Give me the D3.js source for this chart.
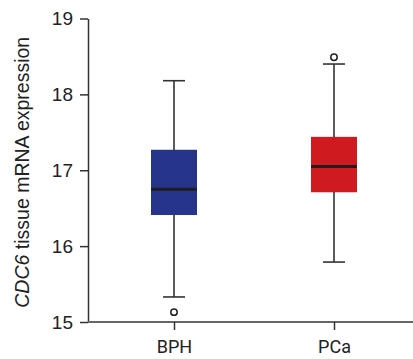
<!DOCTYPE html>
<html>
<head>
<meta charset="utf-8">
<script src="https://cdn.jsdelivr.net/npm/d3@7"></script>
<style>
  body { margin: 0; background: #fff; }
  svg { display: block; }
</style>
</head>
<body>
<svg id="chart"></svg>
<script>
const groups = ['BPH', 'PCa']
const colors = ['#27348b', '#cf1a1f']
const whiskerLow = [15.33, 15.79]
const q1 = [16.41, 16.71]
const median = [16.75, 17.05]
const q3 = [17.27, 17.44]
const whiskerHigh = [18.18, 18.40]
const outliers = [[15.13], [18.49]]
const yTicks = [15, 16, 17, 18, 19]

const W = 413
const H = 359

const svg = d3.select('#chart')
    .attr('width', W)
    .attr('height', H)

const y = d3.scaleLinear()
    .domain([15, 19])
    .range([322, 18.5])

const x = d3.scalePoint()
    .domain(groups)
    .range([174, 334])

const boxW = 46
const capW = 22

const data = groups.map((g, i) => ({
    g: g,
    color: colors[i],
    lo: whiskerLow[i],
    q1: q1[i],
    med: median[i],
    q3: q3[i],
    hi: whiskerHigh[i],
    out: outliers[i]
}))

// y axis
const yAxis = svg.append('g')
    .attr('transform', 'translate(88,0)')
    .call(d3.axisLeft(y).tickValues(yTicks).tickFormat(d3.format('d'))
        .tickSize(8).tickSizeOuter(0).tickPadding(7))
yAxis.select('.domain').attr('stroke', '#333').attr('stroke-width', 1.5)
yAxis.selectAll('.tick line').attr('stroke', '#333').attr('stroke-width', 1.5)
yAxis.selectAll('.tick text')
    .attr('font-family', 'Liberation Sans, Arial, sans-serif')
    .attr('font-size', 19)
    .attr('fill', '#222')

// x axis
const xAxis = svg.append('g')
    .attr('transform', 'translate(0,322)')
    .call(d3.axisBottom(x).tickSize(8).tickPadding(10))
xAxis.select('.domain').remove()
xAxis.insert('line', ':first-child')
    .attr('x1', 88).attr('x2', W)
    .attr('stroke', '#666').attr('stroke-width', 2)
xAxis.selectAll('.tick line').attr('stroke', '#333').attr('stroke-width', 1.5)
xAxis.selectAll('.tick text')
    .attr('font-family', 'Roboto, sans-serif')
    .attr('font-size', 18)
    .attr('fill', '#222')

// y label
const label = svg.append('text')
    .attr('transform', `translate(29,${(y(15) + y(19)) / 2 + 2}) rotate(-90)`)
    .attr('text-anchor', 'middle')
    .attr('font-family', 'Liberation Sans, Arial, sans-serif')
    .attr('font-size', 19.5)
    .attr('fill', '#222')
label.append('tspan').attr('font-style', 'italic').text('CDC6')
label.append('tspan').text(' tissue mRNA expression')

// boxes
const box = svg.selectAll('.box')
    .data(data)
    .enter()
    .append('g')
    .attr('class', 'box')

box.append('line')
    .attr('x1', d => x(d.g)).attr('x2', d => x(d.g))
    .attr('y1', d => y(d.hi)).attr('y2', d => y(d.lo))
    .attr('stroke', '#333').attr('stroke-width', 1.6)

box.append('line')
    .attr('x1', d => x(d.g) - capW / 2).attr('x2', d => x(d.g) + capW / 2)
    .attr('y1', d => y(d.hi)).attr('y2', d => y(d.hi))
    .attr('stroke', '#333').attr('stroke-width', 1.6)

box.append('line')
    .attr('x1', d => x(d.g) - capW / 2).attr('x2', d => x(d.g) + capW / 2)
    .attr('y1', d => y(d.lo)).attr('y2', d => y(d.lo))
    .attr('stroke', '#333').attr('stroke-width', 1.6)

box.append('rect')
    .attr('x', d => x(d.g) - boxW / 2)
    .attr('width', boxW)
    .attr('y', d => y(d.q3))
    .attr('height', d => y(d.q1) - y(d.q3))
    .attr('fill', d => d.color)

box.append('line')
    .attr('x1', d => x(d.g) - boxW / 2).attr('x2', d => x(d.g) + boxW / 2)
    .attr('y1', d => y(d.med)).attr('y2', d => y(d.med))
    .attr('stroke', '#1e1e1e').attr('stroke-width', 3)

box.selectAll('circle')
    .data(d => d.out.map(v => ({ g: d.g, v: v })))
    .enter()
    .append('circle')
    .attr('cx', d => x(d.g))
    .attr('cy', d => y(d.v))
    .attr('r', 3.2)
    .attr('fill', '#fff')
    .attr('stroke', '#222')
    .attr('stroke-width', 1.5)
</script>
</body>
</html>
